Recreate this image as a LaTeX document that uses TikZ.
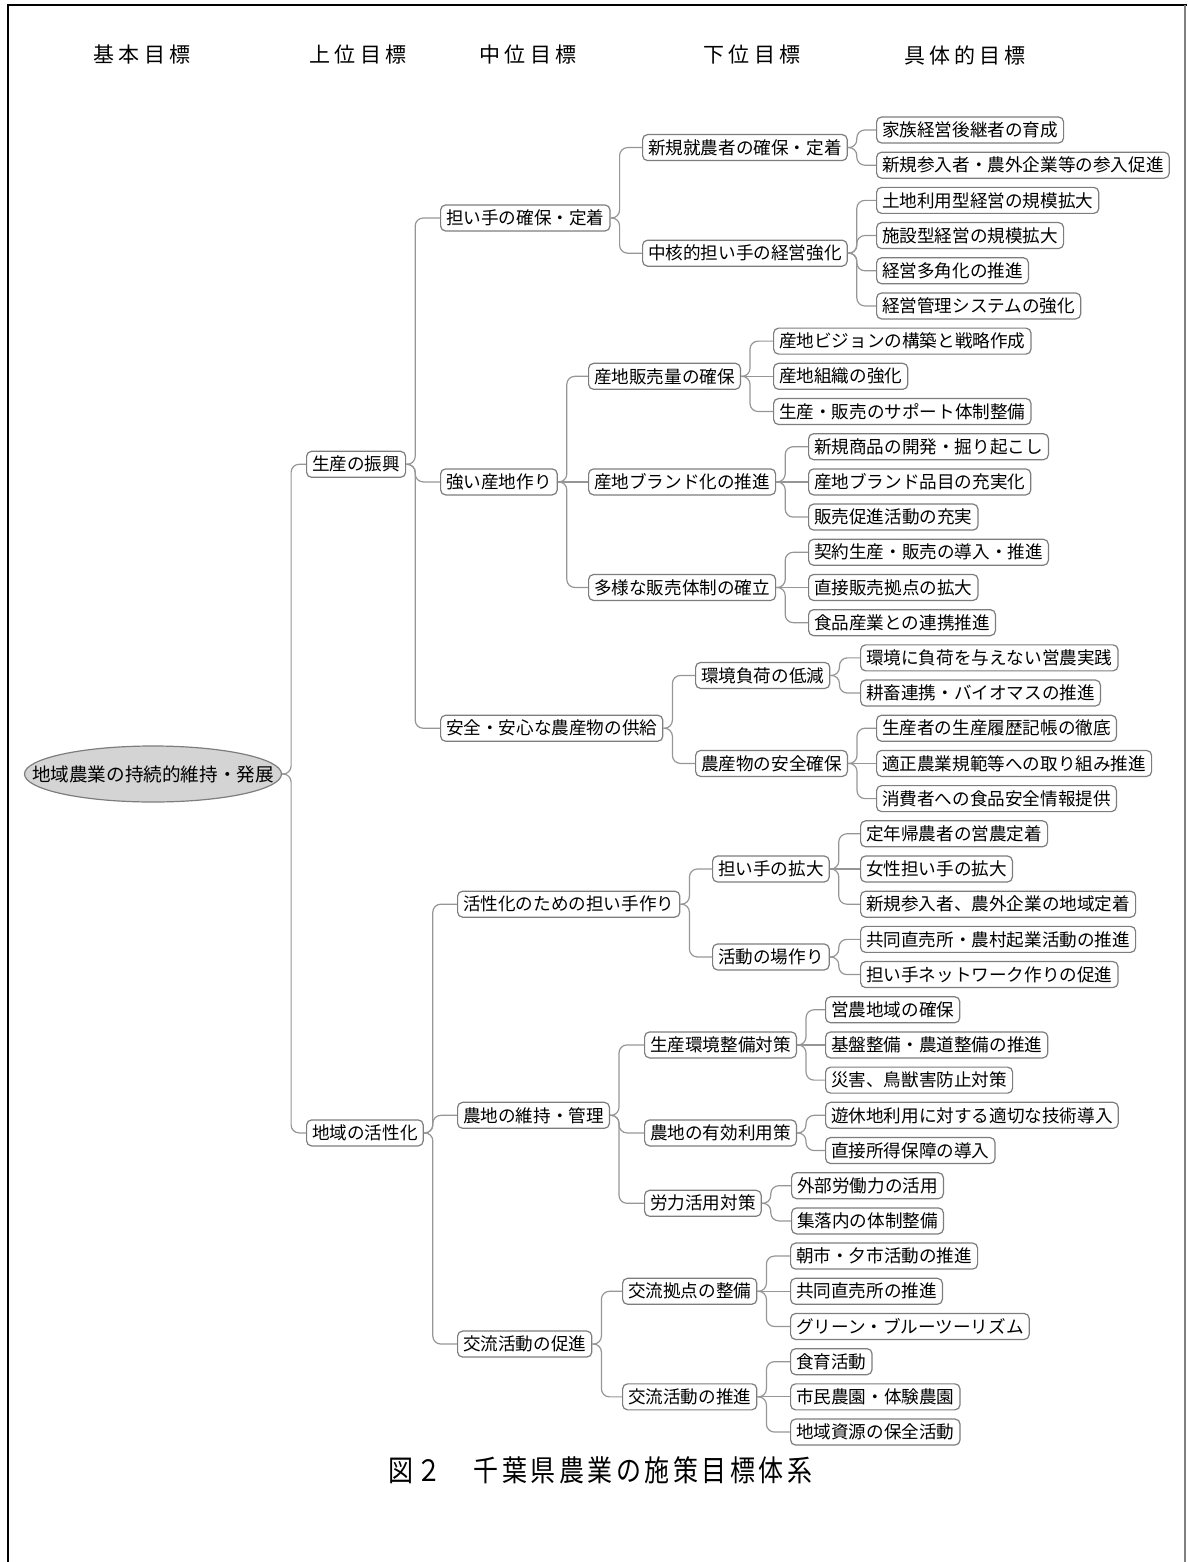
\documentclass[tikz,border=0pt]{standalone}
\usepackage{fontspec}
\usepackage{graphicx}
\usetikzlibrary{shapes.geometric}
\newfontfamily\jp{Noto Sans CJK JP}
\newfontfamily\jphead[LetterSpace=20]{Noto Sans CJK JP}
\newfontfamily\jpcap[LetterSpace=14]{Noto Sans CJK JP}
\definecolor{boxline}{RGB}{125,125,125}
\definecolor{linkline}{RGB}{150,150,150}
\definecolor{rootfill}{RGB}{212,212,212}
% vertical position of the n-th leaf row, and the middle of two rows
\newcommand\rowy[1]{(130+35.19*(#1-1))}
\newcommand\midy[2]{((130+35.19*(#1-1)+130+35.19*(#2-1))/2)}
% curved and straight connectors
\newcommand\lnk[2]{\draw[link] (#1.east) -- ++(9,0) |- (#2.west);}
\newcommand\lnks[2]{\draw[link] (#1.east) -- (#2.west);}
\tikzset{
  box/.style={draw=boxline, line width=1.2pt, rounded corners=5pt, fill=white,
    inner xsep=5.5pt, inner ysep=0pt, minimum height=26pt, anchor=west,
    font=\jp\fontsize{17.6pt}{20pt}\selectfont},
  link/.style={draw=linkline, line width=1.2pt, rounded corners=8pt},
  head/.style={font=\jphead\fontsize{21pt}{24pt}\selectfont, inner sep=0pt},
}
\begin{document}
\begin{tikzpicture}[x=1pt, y=-1pt]
\useasboundingbox (0,0) rectangle (1187,1562);
% frame
\draw[line width=2.4pt, line cap=rect] (8,1562) -- (8,5) -- (1186,5);
\draw[gray, line width=1.4pt] (1185,5) -- (1185,1562);

% column headings
\node[head] (h1) at (142,55) {基本目標};
\node[head] (h2) at (358,55) {上位目標};
\node[head] (h3) at (528,55) {中位目標};
\node[head] (h4) at (752,55) {下位目標};
\node[head] (h5) at (965,55) {具体的目標};

% root: the ellipse, then its text
\node[ellipse, draw=boxline, line width=1.2pt, fill=rootfill, minimum width=257pt,
  minimum height=56pt, inner sep=0pt] (root) at (153,774) {};
\node[inner sep=0pt, font=\jp\fontsize{18.6pt}{20pt}\selectfont] (roottext) at (root.center)
  {地域農業の持続的維持・発展};

% upper goals
\node[box] (u1) at (306,{\midy{1}{20}}) {生産の振興};
\node[box] (u2) at (306,{\midy{21}{38}}) {地域の活性化};

% middle goals
\node[box] (m1) at (440,{\midy{1}{6}}) {担い手の確保・定着};
\node[box] (m2) at (440,{\midy{7}{15}}) {強い産地作り};
\node[box] (m3) at (440,{\midy{16}{20}}) {安全・安心な農産物の供給};
\node[box] (m4) at (457,{\midy{21}{25}}) {活性化のための担い手作り};
\node[box] (m5) at (457,{\midy{26}{32}}) {農地の維持・管理};
\node[box] (m6) at (457,{\midy{33}{38}}) {交流活動の促進};

% lower goals
\node[box] (a1) at (642,{\midy{1}{2}}) {新規就農者の確保・定着};
\node[box] (a2) at (642,{\midy{3}{6}}) {中核的担い手の経営強化};
\node[box] (b1) at (588,{\midy{7}{9}}) {産地販売量の確保};
\node[box] (b2) at (588,{\midy{10}{12}}) {産地ブランド化の推進};
\node[box] (b3) at (588,{\midy{13}{15}}) {多様な販売体制の確立};
\node[box] (c1) at (695,{\midy{16}{17}}) {環境負荷の低減};
\node[box] (c2) at (695,{\midy{18}{20}}) {農産物の安全確保};
\node[box] (d1) at (712,{\midy{21}{23}}) {担い手の拡大};
\node[box] (d2) at (712,{\midy{24}{25}}) {活動の場作り};
\node[box] (e1) at (644,{\midy{26}{28}}) {生産環境整備対策};
\node[box] (e2) at (644,{\midy{29}{30}}) {農地の有効利用策};
\node[box] (e3) at (644,{\midy{31}{32}}) {労力活用対策};
\node[box] (f1) at (622,{\midy{33}{35}}) {交流拠点の整備};
\node[box] (f2) at (622,{\midy{36}{38}}) {交流活動の推進};

% concrete goals
\node[box] (l1) at (876,{\rowy{1}}) {家族経営後継者の育成};
\node[box] (l2) at (876,{\rowy{2}}) {新規参入者・農外企業等の参入促進};
\node[box] (l3) at (876,{\rowy{3}}) {土地利用型経営の規模拡大};
\node[box] (l4) at (876,{\rowy{4}}) {施設型経営の規模拡大};
\node[box] (l5) at (876,{\rowy{5}}) {経営多角化の推進};
\node[box] (l6) at (876,{\rowy{6}}) {経営管理システムの強化};
\node[box] (l7) at (773,{\rowy{7}}) {産地ビジョンの構築と戦略作成};
\node[box] (l8) at (773,{\rowy{8}}) {産地組織の強化};
\node[box] (l9) at (773,{\rowy{9}}) {生産・販売のサポート体制整備};
\node[box] (l10) at (808,{\rowy{10}}) {新規商品の開発・掘り起こし};
\node[box] (l11) at (808,{\rowy{11}}) {産地ブランド品目の充実化};
\node[box] (l12) at (808,{\rowy{12}}) {販売促進活動の充実};
\node[box] (l13) at (808,{\rowy{13}}) {契約生産・販売の導入・推進};
\node[box] (l14) at (808,{\rowy{14}}) {直接販売拠点の拡大};
\node[box] (l15) at (808,{\rowy{15}}) {食品産業との連携推進};
\node[box] (l16) at (860,{\rowy{16}}) {環境に負荷を与えない営農実践};
\node[box] (l17) at (860,{\rowy{17}}) {耕畜連携・バイオマスの推進};
\node[box] (l18) at (876,{\rowy{18}}) {生産者の生産履歴記帳の徹底};
\node[box] (l19) at (876,{\rowy{19}}) {適正農業規範等への取り組み推進};
\node[box] (l20) at (876,{\rowy{20}}) {消費者への食品安全情報提供};
\node[box] (l21) at (860,{\rowy{21}}) {定年帰農者の営農定着};
\node[box] (l22) at (860,{\rowy{22}}) {女性担い手の拡大};
\node[box] (l23) at (860,{\rowy{23}}) {新規参入者、農外企業の地域定着};
\node[box] (l24) at (860,{\rowy{24}}) {共同直売所・農村起業活動の推進};
\node[box] (l25) at (860,{\rowy{25}}) {担い手ネットワーク作りの促進};
\node[box] (l26) at (825,{\rowy{26}}) {営農地域の確保};
\node[box] (l27) at (825,{\rowy{27}}) {基盤整備・農道整備の推進};
\node[box] (l28) at (825,{\rowy{28}}) {災害、鳥獣害防止対策};
\node[box] (l29) at (825,{\rowy{29}}) {遊休地利用に対する適切な技術導入};
\node[box] (l30) at (825,{\rowy{30}}) {直接所得保障の導入};
\node[box] (l31) at (791,{\rowy{31}}) {外部労働力の活用};
\node[box] (l32) at (791,{\rowy{32}}) {集落内の体制整備};
\node[box] (l33) at (790,{\rowy{33}}) {朝市・夕市活動の推進};
\node[box] (l34) at (790,{\rowy{34}}) {共同直売所の推進};
\node[box] (l35) at (790,{\rowy{35}}) {グリーン・ブルーツーリズム};
\node[box] (l36) at (790,{\rowy{36}}) {食育活動};
\node[box] (l37) at (790,{\rowy{37}}) {市民農園・体験農園};
\node[box] (l38) at (790,{\rowy{38}}) {地域資源の保全活動};

% connectors
\lnk{root}{u1} \lnk{root}{u2}
\lnk{u1}{m1} \lnk{u1}{m2} \lnk{u1}{m3}
\lnk{u2}{m4} \lnk{u2}{m5} \lnk{u2}{m6}
\lnk{m1}{a1} \lnk{m1}{a2}
\lnk{m2}{b1} \lnks{m2}{b2} \lnk{m2}{b3}
\lnk{m3}{c1} \lnk{m3}{c2}
\lnk{m4}{d1} \lnk{m4}{d2}
\lnk{m5}{e1} \lnk{m5}{e2} \lnk{m5}{e3}
\lnk{m6}{f1} \lnk{m6}{f2}
\lnk{a1}{l1} \lnk{a1}{l2}
\lnk{a2}{l3} \lnk{a2}{l4} \lnk{a2}{l5} \lnk{a2}{l6}
\lnk{b1}{l7} \lnks{b1}{l8} \lnk{b1}{l9}
\lnk{b2}{l10} \lnks{b2}{l11} \lnk{b2}{l12}
\lnk{b3}{l13} \lnks{b3}{l14} \lnk{b3}{l15}
\lnk{c1}{l16} \lnk{c1}{l17}
\lnk{c2}{l18} \lnks{c2}{l19} \lnk{c2}{l20}
\lnk{d1}{l21} \lnks{d1}{l22} \lnk{d1}{l23}
\lnk{d2}{l24} \lnk{d2}{l25}
\lnk{e1}{l26} \lnks{e1}{l27} \lnk{e1}{l28}
\lnk{e2}{l29} \lnk{e2}{l30}
\lnk{e3}{l31} \lnk{e3}{l32}
\lnk{f1}{l33} \lnks{f1}{l34} \lnk{f1}{l35}
\lnk{f2}{l36} \lnks{f2}{l37} \lnk{f2}{l38}

% caption
\node[inner sep=0pt] (cap) at (600,1470)
  {\scalebox{1}[1.18]{\jpcap\fontsize{25pt}{28pt}\selectfont 図２　千葉県農業の施策目標体系}};
\end{tikzpicture}
\end{document}
